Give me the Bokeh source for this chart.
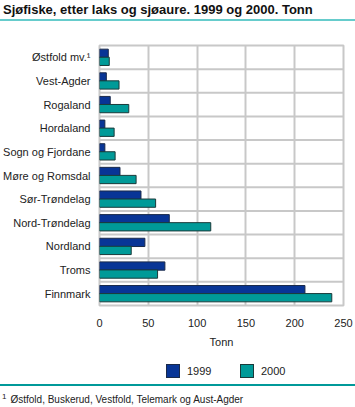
from bokeh.plotting import figure, ColumnDataSource
from bokeh.models import FactorRange, Range1d, Span, Div
from bokeh.layouts import column
from bokeh.transform import dodge
from bokeh.embed import file_html
from bokeh.resources import INLINE

regions = ["Østfold mv.¹", "Vest-Agder", "Rogaland", "Hordaland", "Sogn og Fjordane",
           "Møre og Romsdal", "Sør-Trøndelag", "Nord-Trøndelag", "Nordland", "Troms", "Finnmark"]
values_1999 = [9, 7, 11, 5.5, 5.5, 21, 42.5, 71.5, 46.5, 67, 210.5]
values_2000 = [10, 20, 30, 15, 16, 37.5, 57.5, 114, 32.5, 59.5, 238]
series_labels = ["1999", "2000"]
x_ticks = [0, 50, 100, 150, 200, 250]
title_text = "Sjøfiske, etter laks og sjøaure. 1999 og 2000. Tonn"
footnote_text = "Østfold, Buskerud, Vestfold, Telemark og Aust-Agder"

FONT = "Liberation Sans"
C1999 = "#083596"
C2000 = "#009a98"
OUT1999 = "#1a2a4a"
OUT2000 = "#1a3a3a"

src = ColumnDataSource(dict(region=regions, v1999=values_1999, v2000=values_2000))

p = figure(width=355, height=328, output_backend="svg", toolbar_location=None,
           y_range=FactorRange(factors=regions[::-1], range_padding=0),
           x_range=Range1d(0, 250),
           min_border_left=95, min_border_right=12, min_border_top=23, min_border_bottom=41)
p.background_fill_color = "white"
p.border_fill_color = "white"
p.outline_line_color = "#c8c8c8"
p.outline_line_width = 2

p.xgrid.grid_line_color = "#c8c8c8"
p.xgrid.grid_line_width = 2
p.ygrid.grid_line_color = None
for b in range(1, len(regions)):
    p.add_layout(Span(location=b, dimension="width", line_color="#c8c8c8", line_width=2))

p.hbar(y=dodge("region", 0.17, range=p.y_range), right="v1999", left=0, height=0.35,
       source=src, fill_color=C1999, line_color=OUT1999, line_width=1)
p.hbar(y=dodge("region", -0.17, range=p.y_range), right="v2000", left=0, height=0.35,
       source=src, fill_color=C2000, line_color=OUT2000, line_width=1)

p.xaxis.ticker = x_ticks
p.xaxis.axis_line_color = None
p.xaxis.major_tick_line_color = None
p.xaxis.minor_tick_line_color = None
p.xaxis.major_label_standoff = 7
p.xaxis.major_label_text_font = FONT
p.xaxis.major_label_text_font_size = "11px"
p.xaxis.major_label_text_color = "#222222"
p.xaxis.axis_label = "Tonn"
p.xaxis.axis_label_text_font = FONT
p.xaxis.axis_label_text_font_size = "11px"
p.xaxis.axis_label_text_font_style = "normal"
p.xaxis.axis_label_text_color = "#222222"
p.xaxis.axis_label_standoff = 6

p.yaxis.axis_line_color = None
p.yaxis.major_tick_line_color = None
p.yaxis.minor_tick_line_color = None
p.yaxis.major_label_standoff = 3
p.yaxis.major_label_text_font = FONT
p.yaxis.major_label_text_font_size = "11px"
p.yaxis.major_label_text_color = "#222222"


def legend_item(x, color, border, label):
    return ('<div style="position:absolute;left:%dpx;top:14px;width:14px;height:14px;'
            'box-sizing:border-box;background:%s;border:1px solid %s"></div>'
            '<div style="position:absolute;left:%dpx;top:13px;font-family:\'Liberation Sans\';'
            'font-size:11px;line-height:16px;color:#222">%s</div>') % (x, color, border, x + 21, label)


legend_div = Div(width=355, height=34, margin=(0, 0, 0, 0),
                 text=('<div style="position:relative;width:355px;height:34px">'
                       + legend_item(166, C1999, OUT1999, series_labels[0])
                       + legend_item(240, C2000, OUT2000, series_labels[1])
                       + '</div>'))

title = Div(width=355, height=22, margin=(0, 0, 0, 0),
            text=('<div style="width:355px;height:21px;box-sizing:border-box;padding:2px 0 0 3px;'
                  'font-family:\'Liberation Sans\';font-size:13px;font-weight:bold;color:#111;'
                  'line-height:15px;white-space:nowrap;border-bottom:2px solid #66cccc">'
                  + title_text + '</div>'))
foot = Div(width=355, height=23, margin=(0, 0, 0, 0),
           text=('<div style="width:355px;height:23px;box-sizing:border-box;padding:4px 0 0 2px;'
                 'font-family:\'Liberation Sans\';font-size:10px;color:#222;line-height:13px;'
                 'white-space:nowrap;border-top:2px solid #009999">'
                 '<span style="font-size:8px;vertical-align:4px;margin-right:4px">1</span>'
                 + footnote_text + '</div>'))

layout = column(title, p, legend_div, foot, spacing=0)
open("out.html", "w").write(file_html(layout, INLINE))
